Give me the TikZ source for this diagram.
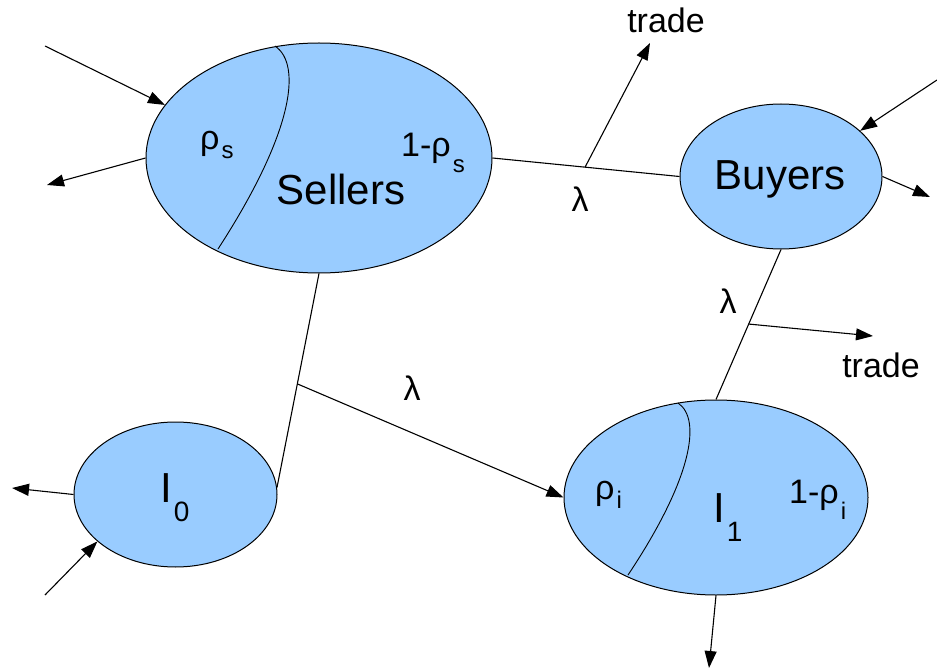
\documentclass[tikz,border=0pt]{standalone}
\usepackage{fontspec}
\setmainfont{Liberation Sans}
\usetikzlibrary{arrows.meta,shapes.geometric}
\definecolor{poolblue}{RGB}{153,204,255}
% lowered subscript: drop, size, text
\newcommand\lowered[3]{\hspace{2pt}\raisebox{-#1pt}{\fontsize{#2}{#2}\selectfont #3}}

\begin{document}
\begin{tikzpicture}[x=1pt,y=-1pt,
  pool/.style={ellipse, draw=black, fill=poolblue, line width=1pt, inner sep=0pt},
  flow/.style={line width=1.1pt},
  arr/.style={flow, -{Triangle[length=17pt,width=12pt]}},
  big/.style={inner sep=0pt, font=\fontsize{42}{42}\selectfont},
  lbl/.style={inner sep=0pt, font=\fontsize{34}{34}\selectfont},
]
\useasboundingbox (0,0) rectangle (937,671);

% the four pools
\node[pool, minimum width=346pt, minimum height=230pt] (S)  at (319,158)   {};
\node[pool, minimum width=202pt, minimum height=145pt] (B)  at (781,176.5) {};
\node[pool, minimum width=203pt, minimum height=145pt] (I0) at (175.5,494.5) {};
\node[pool, minimum width=304pt, minimum height=195pt] (I1) at (716,497.5) {};

% internal splits
\draw[line width=0.9pt] (275,46) .. controls (303,65) and (292,135) .. (218,249);
\draw[line width=0.9pt] (678,403) .. controls (702,419) and (692,479) .. (628,575);

% free ends of the outer arrows
\coordinate (sIn)   at (45,46);
\coordinate (sOut)  at (47,185);
\coordinate (bIn)   at (937,80);
\coordinate (bOut)  at (930,197);
\coordinate (i0Out) at (12,488);
\coordinate (i0In)  at (45,595);
\coordinate (i1Out) at (709,668);
\coordinate (tradeA) at (650,43);
\coordinate (tradeB) at (873,336);

% meetings between pools
\draw[flow] (S.east) -- coordinate[pos=0.495] (m1) (B.west);
\draw[flow] (B.south) -- coordinate[pos=0.497] (m2) (I1.north);
\draw[flow] (S.south) -- coordinate[pos=0.516] (m3) (I0.4);
\draw[arr] (m1) -- (tradeA);
\draw[arr] (m2) -- (tradeB);
\draw[arr] (m3) -- (I1.west);

% inflows and outflows
\draw[arr] (sIn) -- (S.161);
\draw[arr] (S.west) -- (sOut);
\draw[arr] (bIn) -- (B.30);
\draw[arr] (B.east) -- (bOut);
\draw[arr] (I0.west) -- (i0Out);
\draw[arr] (i0In) -- (I0.211);
\draw[arr] (I1.south) -- (i1Out);

% labels
\node[big, anchor=base] (tS) at (341,205) {Sellers};
\node[big, anchor=base] (tB) at (780,190) {Buyers};
\node[big, anchor=base west] (tI0) at (160,502) {I\lowered{19}{28}{0}};
\node[big, anchor=base west] (tI1) at (713,522) {I\lowered{19}{28}{1}};
\node[lbl, anchor=base west] (rs)  at (200,150) {ρ\lowered{9}{24}{s}};
\node[lbl, anchor=base west] (rs2) at (401,157) {1-ρ\lowered{16}{24}{s}};
\node[lbl, anchor=base west] (ri)  at (595,499) {ρ\lowered{9}{24}{i}};
\node[lbl, anchor=base west] (ri2) at (789,503) {1-ρ\lowered{16}{24}{i}};
\node[lbl, anchor=base] (l1) at (580,212) {λ};
\node[lbl, anchor=base] (l2) at (728,313) {λ};
\node[lbl, anchor=base] (l3) at (412,400) {λ};
\node[lbl, anchor=base] (tr1) at (666,33) {trade};
\node[lbl, anchor=base] (tr2) at (881,377) {trade};
\end{tikzpicture}
\end{document}
